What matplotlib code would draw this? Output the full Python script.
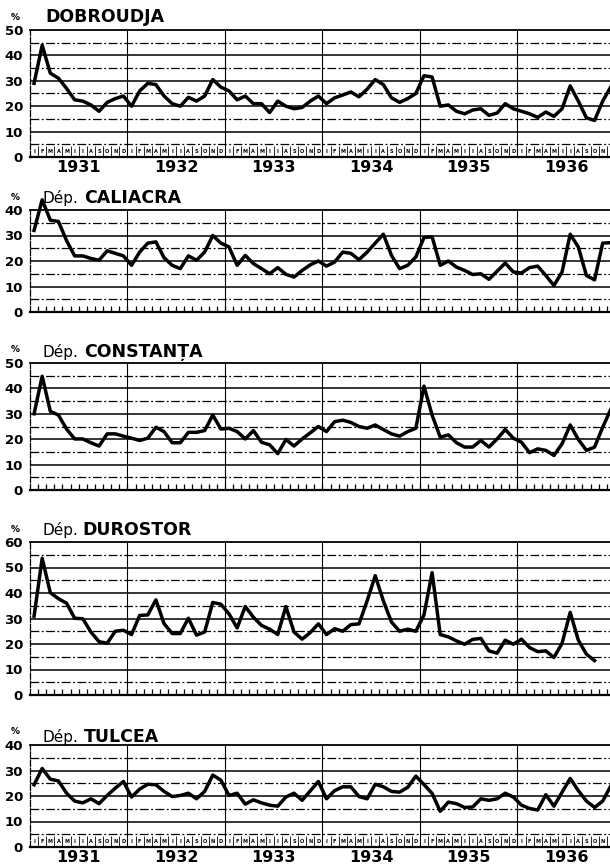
import numpy as np
import matplotlib
matplotlib.use("Agg")
import matplotlib.pyplot as plt
from matplotlib import font_manager

nan = np.nan

years = ["1931", "1932", "1933", "1934", "1935", "1936"]
month_letters = ["I", "F", "M", "A", "M", "I", "I", "A", "S", "O", "N", "D"]

dobroudja = [
    29, 44, 33, 31, 27, 22.5, 22, 20.5, 18, 21.5, 23, 24,
    20, 26, 29, 28.5, 24, 21, 20, 23.5, 22, 24, 30.5, 27.5,
    26, 22.5, 24, 21, 21, 17.5, 22, 20, 19, 19.5, 22, 24,
    21, 23.3, 24.4, 25.6, 23.7, 26.7, 30.5, 28.5, 23.3, 21.5, 23, 25,
    32, 31.5, 20, 20.5, 18, 17, 18.5, 19, 16.4, 17.3, 21, 19,
    18, 17, 15.6, 17.7, 16, 19, 28, 22, 15.4, 14.4, 22, 27.6]

caliacra = [
    32, 44, 36, 35.5, 28, 22, 22, 21, 20.3, 24, 23, 22,
    18.3, 23.5, 27, 27.5, 21.3, 18.3, 17, 22, 20.3, 23.5, 30, 27,
    25.5, 18.3, 22.2, 19, 17, 15, 17.4, 14.8, 13.7, 16.3, 18.5, 20,
    18, 19.6, 23.5, 23, 20.5, 23.5, 27, 30.5, 22.2, 17, 18.3, 21.6,
    29.2, 29.5, 18.3, 20, 17.6, 16.3, 14.7, 15, 12.8, 16, 19.2, 15.7,
    15.3, 17.4, 18, 14.3, 10.4, 15.7, 30.5, 25.5, 14.3, 12.6, 27, 27.2]

constanta = [
    30, 44.8, 31, 29.5, 24, 20.1, 20.1, 18.6, 17.3, 22.1, 22.1, 21.2,
    20.4, 19.5, 20.4, 24.7, 23, 18.6, 18.6, 22.7, 22.7, 23.4, 29.5, 24,
    24.3, 23, 20.1, 23.4, 18.8, 17.8, 14.3, 19.9, 17.3, 20.1, 22.5, 25,
    23, 26.9, 27.5, 26.6, 25, 24.3, 25.6, 23.8, 22.1, 21.2, 23, 24.3,
    40.9, 29.5, 20.8, 21.7, 18.6, 16.9, 16.9, 19.5, 16.9, 20.1, 23.8, 20.4,
    18.8, 14.7, 16.2, 15.6, 13.6, 18.2, 25.6, 19.9, 15.6, 16.9, 24.7, 31.8]

durostor = [
    30.9, 53.6, 40.1, 37.8, 36, 30.1, 29.9, 24.7, 20.9, 20.3, 25, 25.4,
    23.7, 31.2, 31.4, 37.3, 28, 24.1, 24.1, 30.1, 23.5, 24.7, 36.3, 35.6,
    31.8, 26.3, 34.7, 30.5, 27.3, 25.8, 23.7, 34.7, 24.7, 21.9, 24.5, 27.9,
    23.7, 26, 25, 27.6, 27.9, 36.9, 46.8, 36.9, 28.6, 25, 25.8, 25,
    31.4, 48, 23.7, 22.8, 21.2, 19.9, 21.8, 22.2, 17.3, 16.4, 21.5, 19.9,
    21.9, 18.6, 17, 17.3, 14.7, 20.3, 32.4, 21.5, 16, 13.5, nan, nan]

tulcea = [
    24.4, 30.8, 26.6, 25.9, 21.1, 18, 17.3, 18.9, 17, 20.2, 23.1, 25.7,
    19.6, 22.7, 24.6, 24.4, 21.8, 19.8, 20.2, 21.1, 18.9, 21.8, 28.2, 26.2,
    20.2, 21.1, 16.8, 18.5, 17.3, 16.4, 16, 19.6, 21.1, 18.3, 22, 25.7,
    18.9, 22.1, 23.6, 23.6, 19.8, 18.9, 24.6, 23.6, 21.8, 21.5, 23.4, 27.8,
    24.5, 21, 14, 17.6, 17, 15.5, 15.7, 18.9, 18.3, 18.9, 21.1, 19.6,
    16.4, 15.1, 14.5, 20.5, 16, 21.5, 26.9, 22.1, 18, 15.5, 18, 24]

titles = [("", "DOBROUDJA"), ("Dép.", "CALIACRA"), ("Dép.", "CONSTANȚA"),
          ("Dép.", "DUROSTOR"), ("Dép.", "TULCEA")]
ymaxes = [50, 40, 50, 60, 40]
series = [dobroudja, caliacra, constanta, durostor, tulcea]

# layout (pixels): top-value line and zero line of each panel
tops = [30, 210, 363, 542, 745]
zeros = [157, 312, 490, 695, 847]
title_x = [45, 43, 43, 42, 43]
title_base = [22, 203, 357, 535, 742]

W, H = 610, 868
fig = plt.figure(figsize=(W / 100, H / 100), dpi=100)
renderer = fig.canvas.get_renderer()

names = {f.name for f in font_manager.fontManager.ttflist}
narrow = "Liberation Sans Narrow" if "Liberation Sans Narrow" in names else "DejaVu Sans"

x = np.arange(72) + 0.5
XMAX = 71.4

for p in range(5):
    top, zero, ymax = tops[p], zeros[p], ymaxes[p]
    ax = fig.add_axes([30 / W, 1 - zero / H, (W - 30) / W, (zero - top) / H])
    ax.set_xlim(0, XMAX)
    ax.set_ylim(0, ymax)
    ax.set_facecolor("none")
    ax.spines["right"].set_visible(False)
    ax.spines["top"].set_linewidth(1.3)
    ax.spines["bottom"].set_linewidth(1.6)
    ax.spines["left"].set_linewidth(0.9)
    ax.spines["left"].set_linestyle((0, (5, 1.5)))

    for v in range(5, ymax, 5):
        if v % 10 == 0:
            ax.axhline(v, color="black", lw=1.1, zorder=1)
        else:
            ax.axhline(v, color="black", lw=0.9, ls=(0, (7, 2, 1.5, 2)), zorder=1)
    for k in range(1, 6):
        ax.axvline(12 * k, color="black", lw=0.8, zorder=1)

    ax.set_xticks([])
    ax.set_yticks(range(0, ymax + 1, 10))
    ax.set_yticklabels([str(v) for v in range(0, ymax + 1, 10)],
                       fontsize=9.5, fontweight="bold")
    ax.tick_params(axis="y", length=0, pad=5)

    if p in (0, 4):
        ax.vlines(np.arange(1, 72), 0, 4.3, color="black", lw=0.6, zorder=1)
        for i in range(72):
            if x[i] < XMAX:
                ax.text(x[i], 2.0, month_letters[i % 12], fontsize=3.6,
                        ha="center", va="center", fontweight="bold")
        for k, yr in enumerate(years):
            ax.text(12 * k + 6, -4.0, yr, fontsize=11.5, fontweight="bold",
                    family=[narrow, "DejaVu Sans"], ha="center", va="center",
                    clip_on=False)
    else:
        ax.vlines(np.arange(1, 72), 0, 2.4, color="black", lw=0.9, zorder=1)

    ax.plot(x, series[p], color="black", lw=2.5, clip_on=False,
            solid_joinstyle="round", zorder=3)

    # titles
    yb = 1 - title_base[p] / H
    name_x = title_x[p]
    if titles[p][0]:
        t = fig.text(title_x[p] / W, yb, titles[p][0], fontsize=11,
                     va="baseline", ha="left")
        bb = t.get_window_extent(renderer)
        name_x = bb.x1 + 5
    fig.text(name_x / W, yb, titles[p][1], fontsize=12.5, fontweight="bold",
             va="baseline", ha="left")
    fig.text(15 / W, 1 - (top - 13) / H, "%", fontsize=6.5, fontweight="bold",
             ha="center", va="center")

fig.savefig("out.png", dpi=100)
